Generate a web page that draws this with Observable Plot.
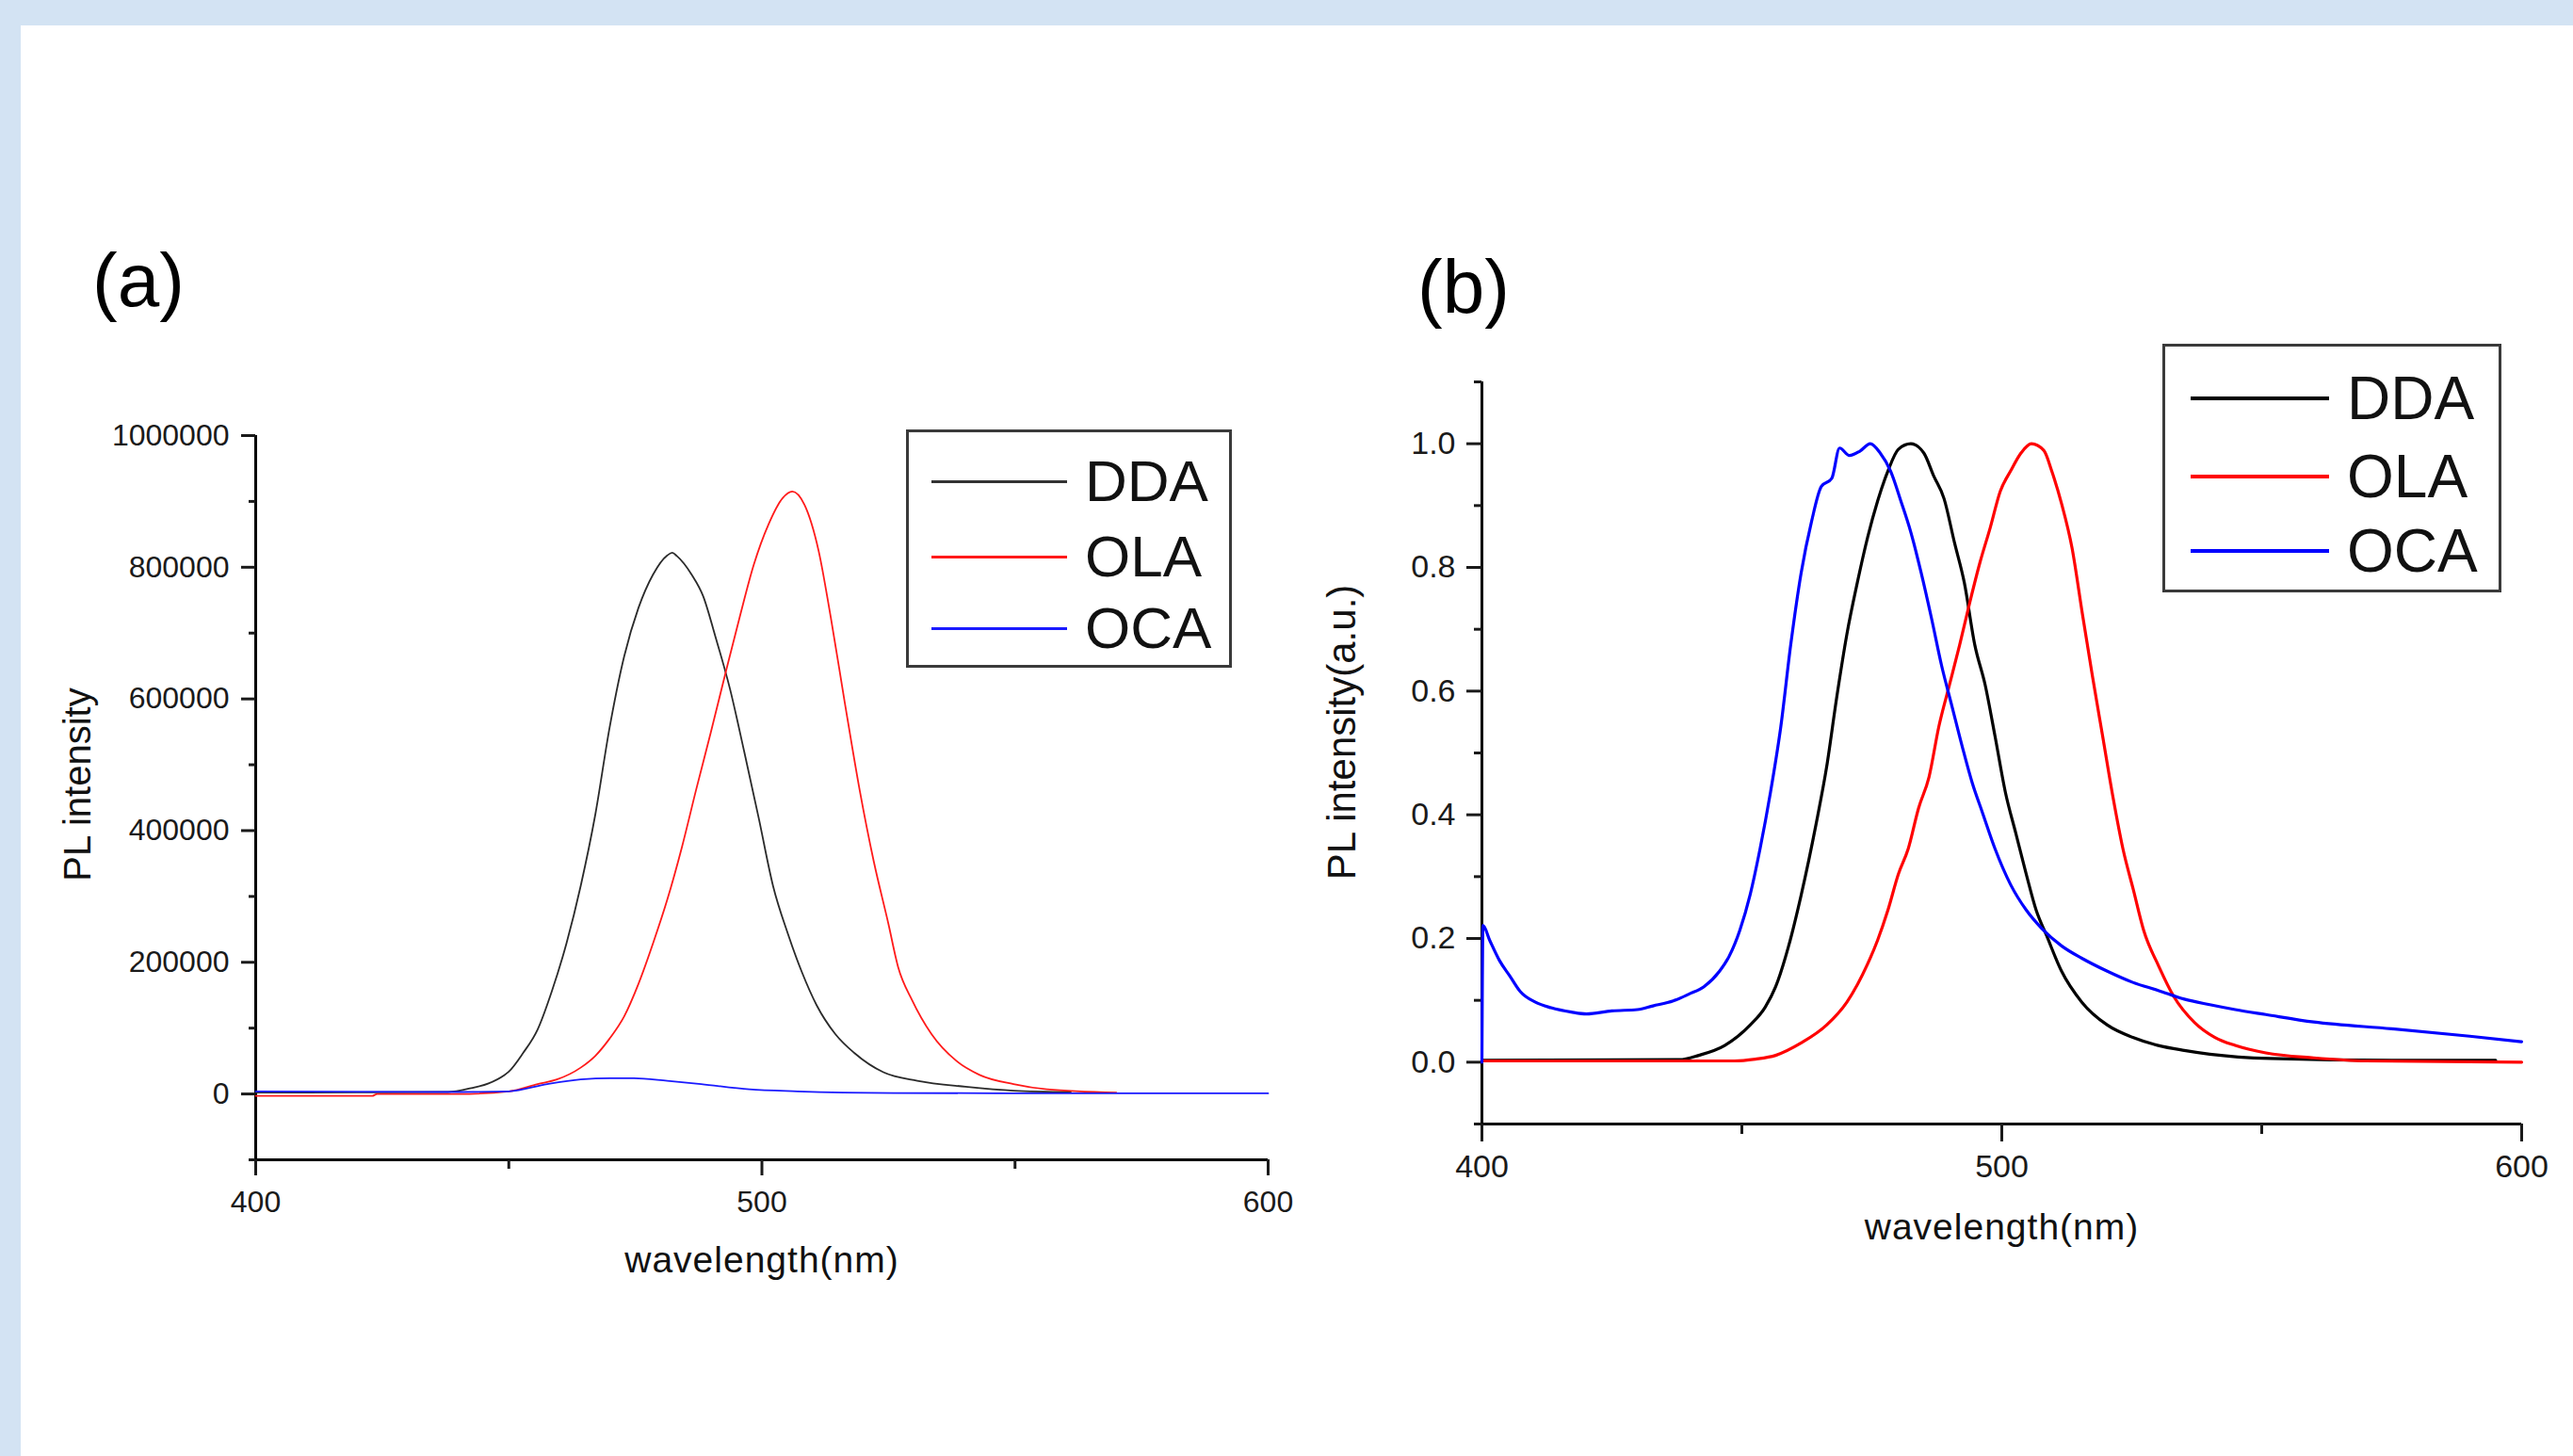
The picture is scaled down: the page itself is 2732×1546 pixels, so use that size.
<!DOCTYPE html>
<html>
<head>
<meta charset="utf-8">
<script src="https://cdn.jsdelivr.net/npm/d3@7"></script>
<script src="https://cdn.jsdelivr.net/npm/@observablehq/plot@0.6"></script>
<style>
  html, body { margin: 0; padding: 0; }
  body { width: 2732px; height: 1546px; overflow: hidden; position: relative;
         background: #d3e3f3; font-family: "Liberation Sans", Arial, sans-serif; }
  #sheet { position: absolute; left: 22px; top: 27px; right: 0; bottom: 0; background: #fff; }
  .panel { position: absolute; top: 0; }
  .plabel { position: absolute; font-size: 80px; line-height: 80px; color: #000; }
  .legend { position: absolute; border: 3px solid #3a3a3a; box-sizing: border-box; background: #fff; }
  .lrow { position: absolute; display: flex; align-items: center; }
  .lrow .sw { display: inline-block; }
  .lrow span.t { color: #111; line-height: 1; }
</style>
</head>
<body>
<div id="sheet"></div>
<div id="pa" class="panel" style="left:0px"></div>
<div id="pb" class="panel" style="left:1400px"></div>
<div class="plabel" style="left:98px; top:258px">(a)</div>
<div class="plabel" style="left:1505px; top:265px">(b)</div>
<div id="legA" class="legend" style="left:962px; top:456px; width:346px; height:253px"></div>
<div id="legB" class="legend" style="left:2296px; top:365px; width:360px; height:264px"></div>
<script>
// ---------- Panel (a): PL intensity (raw counts) ----------
const aDDA_wl = [400, 420, 438, 442.6, 446, 449, 450, 452.8, 455.7, 458.5, 461.4, 464.2, 467.1, 469.9, 472.8, 475.6, 478.5, 481.3, 482.3, 483.2, 486.1, 488.4, 490.8, 493.7, 496.5, 499.4, 502.2, 505.1, 507.9, 510.8, 514.5, 518.3, 524, 530.7, 540.2, 549.7, 561];
const aDDA    = [2000, 2500, 3000, 9000, 16000, 28000, 34000, 62000, 98000, 156000, 229000, 316000, 425000, 556000, 665000, 738000, 789000, 818000, 822000, 817000, 789000, 756000, 695000, 615000, 520000, 418000, 316000, 244000, 185000, 135000, 91000, 62000, 33000, 20000, 11000, 5000, 3000];

const aOLA_wl = [400, 423, 424, 440, 450, 455.7, 459.5, 464.2, 467.1, 469.9, 472.8, 475.6, 478.5, 481.3, 484.2, 487, 489.9, 492.7, 495.6, 498.4, 501.3, 504.1, 506, 508.4, 511.2, 513.6, 516.4, 519.3, 522.1, 525, 526.9, 529.7, 533.5, 538.3, 543, 549.7, 556.3, 570];
const aOLA    = [-3000, -3000, 0, 0, 4000, 15000, 22000, 40000, 58000, 84000, 118000, 167000, 229000, 295000, 375000, 462000, 549000, 636000, 724000, 804000, 865000, 905000, 915000, 895000, 825000, 724000, 593000, 462000, 353000, 258000, 193000, 142000, 91000, 51000, 29000, 15000, 7000, 2000];

const aOCA_wl = [400, 440, 450, 457.6, 464.2, 470, 474.7, 481.3, 488, 497.5, 507, 526, 560, 600];
const aOCA    = [4000, 3000, 4000, 15000, 22000, 24000, 24000, 20000, 15000, 7000, 4000, 1500, 1000, 1000];

const aYMajor = [0, 200000, 400000, 600000, 800000, 1000000];
const aYMinor = [-100000, 100000, 300000, 500000, 700000, 900000];

// ---------- Panel (b): normalised PL intensity ----------
const bDDA_wl = [400, 438, 441.7, 446.7, 451.6, 454.5, 456.5, 459, 461.4, 464.3, 466.3, 468.3, 470.2, 472.2, 474.2, 476.1, 478.1, 480.1, 482.5, 485, 486.9, 488.9, 490.9, 492.8, 494.8, 496.8, 498.7, 500.7, 502.7, 504.7, 506.6, 508.6, 511.5, 515.4, 520.3, 525.2, 530.1, 535.1, 540, 551.6, 575, 595];
const bDDA    = [0.003, 0.004, 0.011, 0.027, 0.06, 0.089, 0.122, 0.188, 0.27, 0.386, 0.477, 0.593, 0.692, 0.775, 0.849, 0.907, 0.956, 0.991, 1.0, 0.985, 0.948, 0.911, 0.84, 0.775, 0.675, 0.61, 0.527, 0.436, 0.37, 0.304, 0.246, 0.205, 0.147, 0.097, 0.06, 0.04, 0.027, 0.019, 0.013, 0.006, 0.003, 0.003];

const bOLA_wl = [400, 448.6, 452.6, 456.5, 461.4, 466.3, 470.2, 474.2, 476.1, 478.1, 480.1, 482, 484, 486, 487.9, 489.9, 491.9, 493.8, 495.8, 497.8, 499.7, 501.7, 503.7, 505.7, 508.1, 509.6, 511.5, 513.5, 515.5, 517.4, 519.4, 521.4, 523.3, 525.3, 527.3, 530.2, 533.1, 537.1, 541, 544.9, 550.8, 560, 570, 600];
const bOLA    = [0.002, 0.002, 0.005, 0.011, 0.031, 0.06, 0.097, 0.159, 0.197, 0.246, 0.304, 0.345, 0.411, 0.461, 0.543, 0.609, 0.675, 0.742, 0.808, 0.865, 0.923, 0.956, 0.985, 1.0, 0.989, 0.956, 0.903, 0.832, 0.725, 0.626, 0.527, 0.428, 0.345, 0.279, 0.213, 0.155, 0.106, 0.064, 0.04, 0.027, 0.015, 0.007, 0.002, 0.0];

const bOCA_wl = [400, 400.2, 401.5, 403.4, 405.4, 407.4, 410.3, 413.3, 417.2, 420.1, 425, 429.9, 432.9, 436.8, 439.8, 442.7, 445.7, 447.6, 449.6, 451.6, 453.5, 455.5, 457.5, 459.4, 461.4, 463.4, 465.3, 467.3, 468.8, 470.7, 472.7, 474.7, 476.6, 478.6, 480.6, 482.5, 484.5, 486.5, 488.4, 490.4, 492.4, 494.3, 496.3, 498.7, 501.7, 504.7, 507.6, 511.5, 515.4, 520.3, 525.2, 530.1, 535.1, 540, 544.9, 550.8, 560, 575, 590, 600];
const bOCA    = [0.0, 0.221, 0.197, 0.164, 0.139, 0.114, 0.097, 0.088, 0.081, 0.078, 0.083, 0.085, 0.091, 0.099, 0.11, 0.122, 0.147, 0.172, 0.213, 0.271, 0.345, 0.436, 0.543, 0.675, 0.791, 0.874, 0.931, 0.944, 0.993, 0.981, 0.988, 1.0, 0.985, 0.956, 0.907, 0.857, 0.791, 0.717, 0.642, 0.576, 0.51, 0.452, 0.403, 0.345, 0.287, 0.246, 0.217, 0.188, 0.168, 0.147, 0.129, 0.116, 0.102, 0.093, 0.085, 0.077, 0.065, 0.054, 0.042, 0.033];

const bYMajor = [0, 0.2, 0.4, 0.6, 0.8, 1.0];
const bYMinor = [-0.1, 0.1, 0.3, 0.5, 0.7, 0.9, 1.1];

const xMajor = [400, 500, 600];
const xMinor = [450, 550];
const seriesNames = ["DDA", "OLA", "OCA"];

const FONT = "Liberation Sans, Arial, Helvetica, sans-serif";
const pts = (wl, v) => wl.map((w, i) => ({w, v: v[i]}));

function panel({width, height, mL, mR, mT, mB, yDomain, yMajor, yMinor, yFmt, series, colors, lw,
                tickFont, xTick, xTickMinor, xPad, yTick, yTickMinor, yPad, ylabel, ylabFont, ylabDx, ylabDy, xlabDy}) {
  const marks = [
    Plot.ruleX([400], {stroke: "#000", strokeWidth: 3}),
    Plot.ruleY([yDomain[0]], {stroke: "#000", strokeWidth: 3}),
    Plot.axisX(xMajor, {tickSize: xTick, tickPadding: xPad, strokeWidth: 3, fontSize: tickFont, tickFormat: d => String(d), label: null}),
    Plot.axisX(xMinor, {tickSize: xTickMinor, tickPadding: 0, strokeWidth: 3, fontSize: tickFont, tickFormat: () => "", label: null}),
    Plot.axisY(yMajor, {tickSize: yTick, tickPadding: yPad, strokeWidth: 3, fontSize: tickFont, tickFormat: yFmt, label: null}),
    Plot.axisY(yMinor, {tickSize: yTickMinor, tickPadding: 0, strokeWidth: 3, fontSize: tickFont, tickFormat: () => "", label: null}),
    ...series.map((s, i) => Plot.line(s, {x: "w", y: "v", stroke: colors[i], strokeWidth: lw, curve: "monotone-x"})),
    Plot.text(["wavelength(nm)"], {frameAnchor: "bottom", textAnchor: "middle", lineAnchor: "middle", dy: xlabDy, fontSize: 39, fill: "#111"}),
    Plot.text([ylabel], {frameAnchor: "left", textAnchor: "middle", lineAnchor: "middle", rotate: -90, dx: ylabDx, dy: ylabDy, fontSize: ylabFont, fill: "#111"})
  ];
  const svg = Plot.plot({
    width, height, marginLeft: mL, marginRight: mR, marginTop: mT, marginBottom: mB,
    style: {background: "transparent", fontFamily: FONT, color: "#1a1a1a", overflow: "visible"},
    x: {domain: [400, 600]},
    y: {domain: yDomain},
    marks
  });
  d3.select(svg).selectAll("text").filter(function() { return this.textContent === "wavelength(nm)"; })
    .attr("letter-spacing", "1px");
  return svg;
}

const svgA = panel({
  width: 1400, height: 1546, mL: 271, mR: 54, mT: 462, mB: 315,
  yDomain: [-100000, 1000000], yMajor: aYMajor, yMinor: aYMinor, yFmt: d => String(d),
  series: [pts(aDDA_wl, aDDA), pts(aOLA_wl, aOLA), pts(aOCA_wl, aOCA)],
  colors: ["#2a2a2a", "#ff1a1a", "#1a1aff"], lw: 1.8,
  tickFont: 32, xTick: 17, xTickMinor: 10, xPad: 16, yTick: 15, yTickMinor: 7, yPad: 13,
  ylabel: "PL intensity", ylabFont: 40, ylabDx: -188, ylabDy: -14, xlabDy: 107
});
document.getElementById("pa").appendChild(svgA);

const svgB = panel({
  width: 1332, height: 1546, mL: 173, mR: 55, mT: 405, mB: 353,
  yDomain: [-0.1, 1.1], yMajor: bYMajor, yMinor: bYMinor, yFmt: d3.format(".1f"),
  series: [pts(bDDA_wl, bDDA), pts(bOLA_wl, bOLA), pts(bOCA_wl, bOCA)],
  colors: ["#000000", "#ff0000", "#0000ff"], lw: 3.2,
  tickFont: 34, xTick: 19, xTickMinor: 11, xPad: 13, yTick: 16, yTickMinor: 8, yPad: 12,
  ylabel: "PL intensity(a.u.)", ylabFont: 42, ylabDx: -148, ylabDy: -22, xlabDy: 110
});
document.getElementById("pb").appendChild(svgB);

// ---------- Legends ----------
function legend(id, box, rows, colors, lineX0, lineX1, textX, fontSize, lineW) {
  const el = document.getElementById(id);
  rows.forEach((name, i) => {
    const r = document.createElement("div");
    r.className = "lrow";
    const h = 70;
    r.style.left = "0px";
    r.style.top = (box.ys[i] - box.top - 3 - h / 2) + "px";
    r.style.height = h + "px";
    const sw = document.createElement("span");
    sw.className = "sw";
    sw.style.marginLeft = (lineX0 - box.left - 3) + "px";
    sw.style.width = (lineX1 - lineX0) + "px";
    sw.style.height = lineW + "px";
    sw.style.background = colors[i];
    const t = document.createElement("span");
    t.className = "t";
    t.textContent = name;
    t.style.marginLeft = (textX - lineX1) + "px";
    t.style.fontSize = fontSize + "px";
    r.appendChild(sw); r.appendChild(t);
    el.appendChild(r);
  });
}
legend("legA", {left: 962, top: 456, ys: [511, 591, 667]}, seriesNames, ["#333333", "#ff1a1a", "#1a1aff"], 989, 1133, 1152, 62, 3);
legend("legB", {left: 2296, top: 365, ys: [423, 506, 585]}, seriesNames, ["#000000", "#ff0000", "#0000ff"], 2326, 2473, 2492, 64, 3.5);
</script>
</body>
</html>
